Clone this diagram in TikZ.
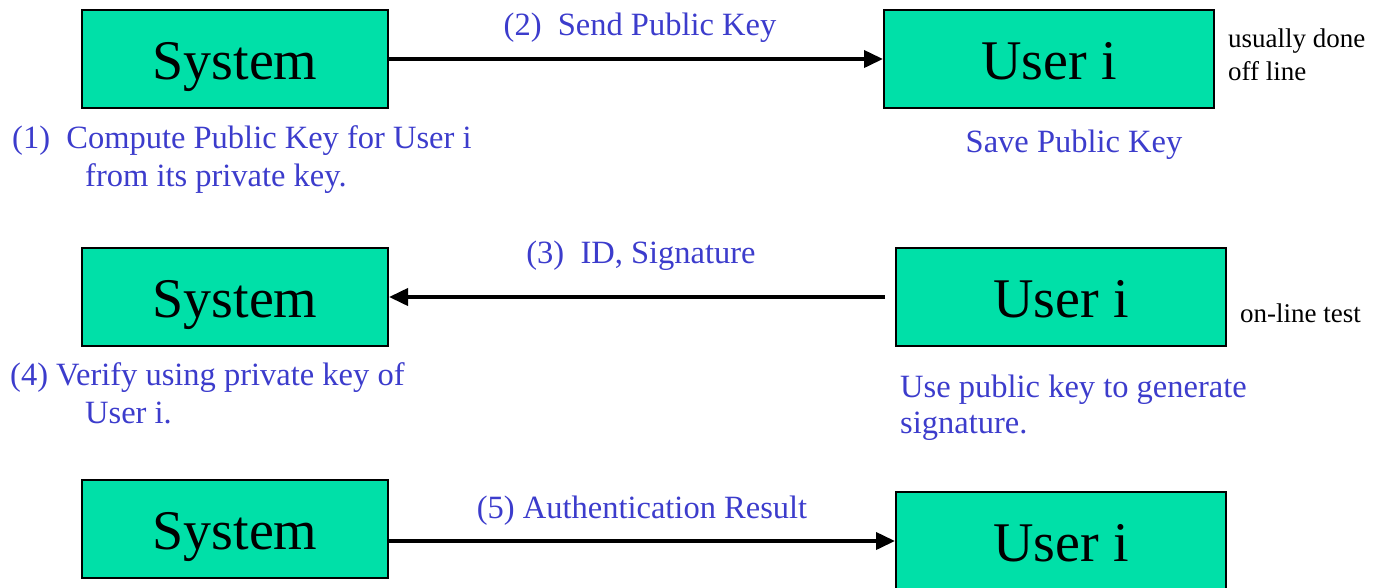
\documentclass[tikz,border=0pt]{standalone}
\usepackage{fontspec}
\setmainfont{Liberation Serif}
\usetikzlibrary{arrows.meta}
\definecolor{boxgreen}{RGB}{0,224,168}
\definecolor{txtblue}{RGB}{60,60,204}
\begin{document}
\begin{tikzpicture}[x=1pt,y=-1pt,
  sysbox/.style={draw=black,line width=2pt,fill=boxgreen,inner sep=0pt,
    minimum height=98pt,text height=40pt,text depth=0pt,
    font=\fontsize{56}{60}\selectfont},
  conn/.style={line width=3.8pt,-{Triangle[length=19pt,width=17pt]}},
  bluetxt/.style={text=txtblue,inner sep=0pt,font=\fontsize{32.5}{38}\selectfont},
  sidetxt/.style={text=black,inner sep=0pt,font=\fontsize{27}{32}\selectfont}]
\useasboundingbox (0,0) rectangle (1380,587);
% row 1
\node[sysbox,minimum width=306pt] (s1) at (235,59) {System};
\node[sysbox,minimum width=330pt] (u1) at (1049,59) {User i};
\draw[conn] (s1.east) -- (u1.west);
\node[bluetxt,anchor=base] (l2) at (640,35) {(2)\ \ Send Public Key};
\node[bluetxt,anchor=base west] (t1a) at (12,148) {(1)\ \ Compute Public Key for User i};
\node[bluetxt,anchor=base west] (t1b) at (85,186) {from its private key.};
\node[bluetxt,anchor=base] (sv) at (1074,152) {Save Public Key};
\node[sidetxt,anchor=base west] (od1) at (1228,47) {usually done};
\node[sidetxt,anchor=base west] (od2) at (1228,80) {off line};
% row 2
\node[sysbox,minimum width=306pt] (s2) at (235,297) {System};
\node[sysbox,minimum width=330pt] (u2) at (1061,297) {User i};
\draw[conn] ([xshift=-10pt]u2.west) -- (s2.east);
\node[bluetxt,anchor=base] (l3) at (641,263) {(3)\ \ ID, Signature};
\node[sidetxt,anchor=base west] (ol) at (1240,322) {on-line test};
\node[bluetxt,anchor=base west] (t4a) at (10,385) {(4) Verify using private key of};
\node[bluetxt,anchor=base west] (t4b) at (85,423) {User i.};
\node[bluetxt,anchor=base west] (tua) at (900,397) {Use public key to generate};
\node[bluetxt,anchor=base west] (tub) at (900,433) {signature.};
% row 3
\node[sysbox,minimum width=306pt] (s3) at (235,529) {System};
\node[sysbox,minimum width=330pt] (u3) at (1061,541) {User i};
\draw[conn] (s3.east |- u3.west) -- (u3.west);
\node[bluetxt,anchor=base] (l5) at (642,518) {(5) Authentication Result};
\end{tikzpicture}
\end{document}
